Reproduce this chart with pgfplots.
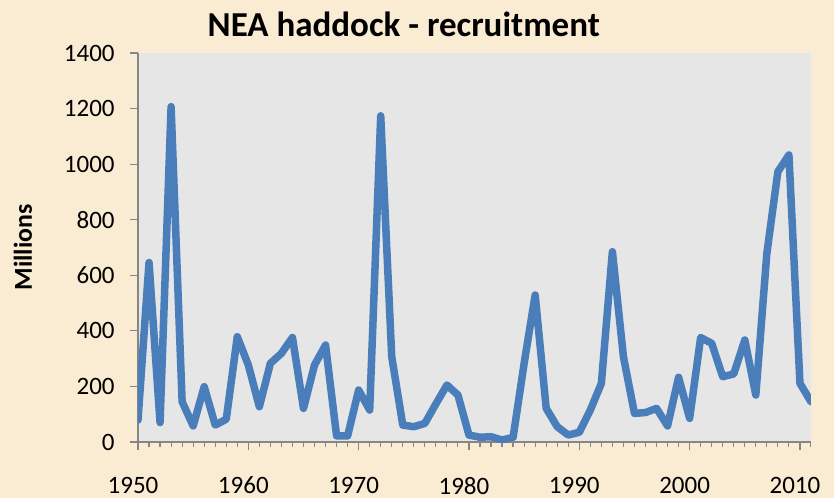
\documentclass[border=0pt]{standalone}
\usepackage{fontspec}
\setmainfont{Carlito}
\usepackage{pgfplots}
\pgfplotsset{compat=1.18}
\definecolor{cream}{HTML}{FAEBD3}
\definecolor{plotgray}{HTML}{E6E6E6}
\definecolor{xlblue}{HTML}{4A7EBB}
\definecolor{axgray}{HTML}{868686}

\begin{document}
\begin{tikzpicture}[x=0.6pt,y=0.6pt]
% page = 834 x 498 units, axis box 673 x 389 units
\fill[cream] (-138,-56) rectangle (696,442);
\useasboundingbox (-138,-56) rectangle (696,442);
\begin{axis}[
  at={(0,0)},anchor=south west,
  scale only axis,width=403.8pt,height=233.4pt,
  xmin=1950,xmax=2011,ymin=0,ymax=1400,
  axis background/.style={fill=plotgray},
  axis x line*=bottom,axis y line*=left,
  axis line style={axgray,line width=0.8pt},
  tick style={axgray,line width=0.7pt},
  tick align=outside,
  major tick length=4.5pt,minor tick length=3pt,
  xtick={1950,1960,...,2010},
  minor xtick={1950,...,2011},
  ytick={0,200,...,1400},
  font=\fontsize{15}{17}\selectfont,
  /pgf/number format/assume math mode=true,
  xticklabel={\pgfmathprintnumber[1000 sep={}]{\tick}},
  yticklabel={\pgfmathprintnumber[1000 sep={}]{\tick}},
  xticklabel style={yshift=-13pt,xshift=-3pt},
  yticklabel style={xshift=-6pt},
  title={NEA haddock - recruitment},
  title style={at={(axis description cs:0.395,1.018)},anchor=base,
    font=\fontsize{21}{24}\selectfont\bfseries},
  ylabel={Millions},
  ylabel style={at={(axis description cs:-0.171,0.5)},anchor=center,
    font=\fontsize{15.5}{18}\selectfont\bfseries},
]
\addplot[xlblue,line width=4.5pt,line join=round,line cap=round] coordinates {
(1950,79) (1951,646) (1952,70) (1953,1207) (1954,145) (1955,58)
(1956,199) (1957,61) (1958,82) (1959,379) (1960,277) (1961,127)
(1962,283) (1963,319) (1964,376) (1965,121) (1966,277) (1967,349)
(1968,22) (1969,22) (1970,187) (1971,115) (1972,1174) (1973,307)
(1974,61) (1975,55) (1976,67) (1977,137) (1978,205) (1979,169)
(1980,25) (1981,17) (1982,19) (1983,7) (1984,17) (1985,283)
(1986,529) (1987,121) (1988,55) (1989,25) (1990,35) (1991,115)
(1992,211) (1993,685) (1994,307) (1995,103) (1996,106) (1997,121)
(1998,58) (1999,233) (2000,85) (2001,376) (2002,355) (2003,235)
(2004,245) (2005,367) (2006,169) (2007,679) (2008,973) (2009,1033)
(2010,211) (2011,145)
};
\end{axis}
\end{tikzpicture}
\end{document}
